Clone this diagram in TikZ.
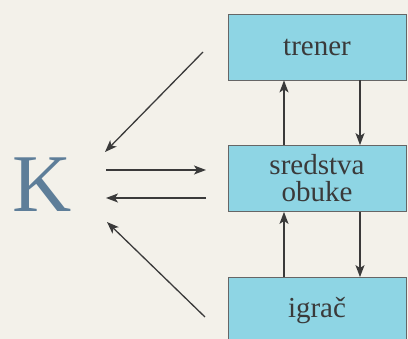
\documentclass[tikz,border=0pt]{standalone}
\usepackage{fontspec}
\setmainfont{Liberation Serif}
\usetikzlibrary{arrows.meta}
\definecolor{bg}{HTML}{F3F1EA}
\definecolor{boxfill}{HTML}{8ED5E4}
\definecolor{kcol}{HTML}{5E7E99}
\definecolor{ink}{HTML}{3A3A3A}
\begin{document}
\begin{tikzpicture}[x=1pt,y=-1pt,
  box/.style={draw=gray!80!black, line width=0.8pt, fill=boxfill, minimum width=178pt, minimum height=66pt, inner sep=0pt, text=ink, font=\rmfamily\fontsize{29}{27}\selectfont, align=center},
  arr/.style={draw=ink, line width=1.3pt, -{Stealth[length=12pt,width=9pt,inset=3pt]}}]
\useasboundingbox (0,0) rectangle (408,339);
\clip (0,0) rectangle (408,339);
\fill[bg] (0,0) rectangle (408,339);
\node[box] (tr) at (317,47) {trener};
\node[box] (sr) at (317,178.5) {sredstva\\obuke};
\node[box] (ig) at (317,310.5) {igrač};
\node[text=kcol, inner sep=0pt, font=\rmfamily\fontsize{82}{82}\selectfont] (K) at (42,185) {K};
\coordinate (ux) at (284,0);
\coordinate (dx) at (360,0);
\draw[arr] (sr.north -| ux) -- (tr.south -| ux);
\draw[arr] (tr.south -| dx) -- (sr.north -| dx);
\draw[arr] (ig.north -| ux) -- (sr.south -| ux);
\draw[arr] (sr.south -| dx) -- (ig.north -| dx);
\coordinate (a1s) at (203,52);
\coordinate (a1e) at (105,152);
\coordinate (a2s) at (106,170);
\coordinate (a2e) at (206,170);
\coordinate (a3s) at (206,198);
\coordinate (a3e) at (106,198);
\coordinate (a4s) at (205,317);
\coordinate (a4e) at (107,222);
\draw[arr] (a1s) -- (a1e);
\draw[arr] (a2s) -- (a2e);
\draw[arr] (a3s) -- (a3e);
\draw[arr] (a4s) -- (a4e);
\end{tikzpicture}
\end{document}
